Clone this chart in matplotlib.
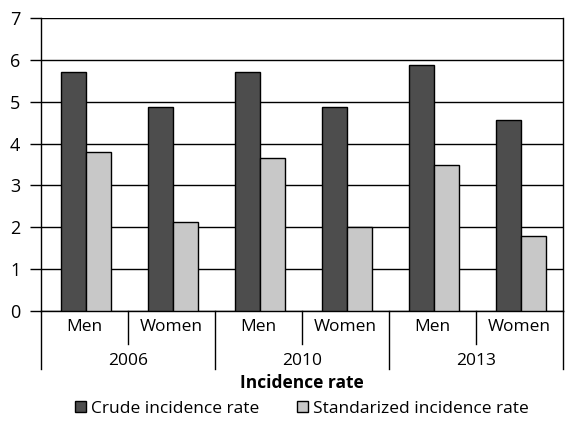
import numpy as np
import matplotlib.pyplot as plt
import matplotlib.transforms as mtransforms

years = ["2006", "2010", "2013"]
sexes = ["Men", "Women"]
crude = [5.71, 4.88, 5.71, 4.88, 5.88, 4.56]
standardized = [3.80, 2.12, 3.65, 2.00, 3.48, 1.80]
yticks = [0, 1, 2, 3, 4, 5, 6, 7]


def main():
	plt.rcParams['font.family'] = ['Open Sans', 'DejaVu Sans']
	fs = 12.5

	fig = plt.figure(figsize=(5.68, 4.21), dpi=100)
	W, H = 568.0, 421.0
	ax = fig.add_axes([41/W, 1-311/H, (563-41)/W, (311-18)/H])

	x = np.arange(len(crude)) + 0.015
	w = 0.288
	ax.bar(x - w/2, crude, w, color='#4d4d4d', edgecolor='black', linewidth=1, label='Crude incidence rate', zorder=3)
	ax.bar(x + w/2, standardized, w, color='#c8c8c8', edgecolor='black', linewidth=1, label='Standarized incidence rate', zorder=3)

	ax.set_xlim(-0.5, 5.5)
	ax.set_ylim(0, 7)
	ax.set_yticks(yticks)
	ax.yaxis.grid(True, color='black', linewidth=1)
	ax.set_axisbelow(True)
	ax.set_xticks([])
	ax.tick_params(axis='y', length=8, width=1, color='black', pad=7, labelsize=13)
	for s in ax.spines.values():
		s.set_color('black')
		s.set_linewidth(1)
	ax.spines['top'].set_visible(False)

	# category axis with two levels
	trans = mtransforms.blended_transform_factory(ax.transData, ax.transAxes)
	short = -(344-311)/293.0
	long = -(369-311)/293.0
	for xs in [0.5, 2.5, 4.5]:
		ax.plot([xs, xs], [0, short], color='black', lw=1, transform=trans, clip_on=False)
	for xs in [-0.5, 1.5, 3.5, 5.5]:
		ax.plot([xs, xs], [0, long], color='black', lw=1, transform=trans, clip_on=False)
	for i in range(len(crude)):
		ax.text(i, -(327-311)/293.0, sexes[i % 2], transform=trans, ha='center', va='center', fontsize=fs)
	for j, yr in enumerate(years):
		ax.text(2*j + 0.5, -(361-311)/293.0, yr, transform=trans, ha='center', va='center', fontsize=fs)
	ax.text(0.5, -(383-311)/293.0, "Incidence rate", transform=ax.transAxes, ha='center', va='center', fontsize=fs, fontweight='bold')

	fig.legend(loc='center', bbox_to_anchor=(302/W, 1-409/H), ncol=2, frameon=False, fontsize=fs,
		handlelength=0.6, handleheight=0.6, handletextpad=0.3, columnspacing=2.2, borderpad=0)

	plt.savefig("out.png", dpi=100)


if __name__ == "__main__":
	main()
